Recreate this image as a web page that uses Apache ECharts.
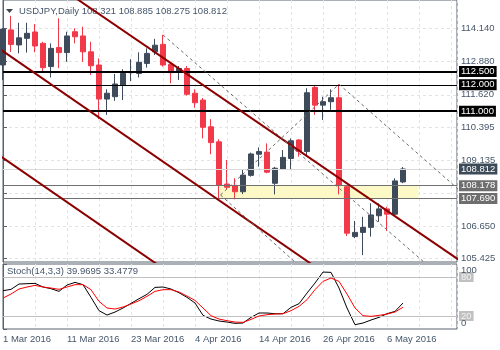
<!DOCTYPE html>
<html><head><meta charset="utf-8">
<script src="https://cdn.jsdelivr.net/npm/echarts@6/dist/echarts.min.js"></script>
<style>html,body{margin:0;padding:0;background:#fff}#c{width:500px;height:350px}</style>
</head><body><div id="c"></div>
<script>
// ---------- data ----------
const dates = ['1 Mar 2016','2 Mar 2016','3 Mar 2016','4 Mar 2016','7 Mar 2016','8 Mar 2016','9 Mar 2016','10 Mar 2016','11 Mar 2016','14 Mar 2016','15 Mar 2016','16 Mar 2016','17 Mar 2016','18 Mar 2016','21 Mar 2016','22 Mar 2016','23 Mar 2016','24 Mar 2016','25 Mar 2016','28 Mar 2016','29 Mar 2016','30 Mar 2016','31 Mar 2016','1 Apr 2016','4 Apr 2016','5 Apr 2016','6 Apr 2016','7 Apr 2016','8 Apr 2016','11 Apr 2016','12 Apr 2016','13 Apr 2016','14 Apr 2016','15 Apr 2016','18 Apr 2016','19 Apr 2016','20 Apr 2016','21 Apr 2016','22 Apr 2016','25 Apr 2016','26 Apr 2016','27 Apr 2016','28 Apr 2016','29 Apr 2016','2 May 2016','3 May 2016','4 May 2016','5 May 2016','6 May 2016','9 May 2016','10 May 2016'];
const opens  = [112.75,114.08,113.51,113.76,114.00,113.57,112.69,113.41,113.22,114.01,113.85,113.25,112.75,111.46,111.55,111.99,112.46,112.43,112.81,113.25,113.53,112.78,112.47,112.62,111.68,111.42,110.41,109.84,108.24,108.19,107.95,108.57,109.37,109.45,108.27,108.81,109.21,109.91,109.47,111.90,111.23,111.36,111.51,108.14,106.25,106.41,106.60,107.04,107.30,107.10,108.321];
const closes = [114.11,113.53,113.78,113.95,113.47,112.65,113.38,113.22,113.85,113.82,113.25,112.72,111.46,111.68,112.03,112.43,112.50,112.85,113.19,113.50,112.75,112.46,112.62,111.64,111.32,110.39,109.81,108.20,108.12,107.95,108.58,109.38,109.47,108.69,108.84,109.25,109.88,109.47,111.70,111.23,111.36,111.51,108.20,106.38,106.41,106.60,107.07,107.30,107.10,108.36,108.812];
const lows   = [112.18,113.24,113.19,113.22,113.23,112.46,112.28,112.63,112.87,113.57,112.87,112.37,110.70,110.86,111.39,111.42,112.14,112.28,112.65,113.13,112.69,112.06,112.18,111.59,111.13,109.97,109.37,107.70,108.04,107.66,107.86,108.52,108.90,108.65,107.85,108.77,108.77,109.28,109.28,110.86,110.67,111.05,107.85,106.27,106.19,105.55,106.25,106.81,106.46,107.03,108.275];
const highs  = [114.15,114.61,114.35,114.35,114.30,113.63,113.57,114.52,114.01,114.14,114.20,113.63,113.00,111.83,112.41,112.59,112.97,113.23,113.38,113.74,113.89,112.87,112.71,112.71,111.83,111.50,110.70,109.94,109.15,108.46,108.80,109.43,109.63,109.78,108.89,109.53,109.97,109.94,111.87,111.95,111.55,111.83,112.02,108.20,106.84,107.00,107.51,107.51,107.38,108.46,108.885];
const stochK = [58.9,61.0,69.2,69.7,70.2,64.6,62.0,57.9,67.6,71.7,68.2,48.7,28.2,21.5,26.1,32.3,39.4,46.6,53.3,64.0,64.6,61.5,55.8,48.7,40.0,21.0,15.3,12.3,10.7,8.7,9.2,17.9,24.6,24.6,23.5,23.5,33.3,38.9,55.3,70.7,87.6,87.1,63.0,32.3,6.6,9.2,13.8,17.9,23.5,27.1,39.9695];
const stochD = [47.6,53.8,61.5,64.6,67.1,64.6,63.0,61.0,64.6,68.2,68.2,60.5,42.5,32.3,30.7,33.8,38.4,43.5,50.2,57.9,60.5,60.5,56.9,50.7,44.0,32.3,20.5,15.3,12.8,10.7,10.2,14.8,20.0,22.0,23.0,23.5,28.2,34.8,45.1,60.5,73.3,78.4,73.3,53.8,32.3,20.5,19.4,21.0,23.0,26.1,33.4779];
const priceTicks = [105.425,106.650,107.875,109.135,110.395,111.620,112.880,114.140];
const hiddenPriceTicks = [107.875];
const thickLevels = [112.5, 111.0];
const thinLevels = [112.0];
const zoneLevels = [108.178, 107.690];
const zoneBars = [27.06, 51.94];
const lastPrice = 108.812;
const channelLines = [
  [[-2,117.579],[58,105.159]],
  [[-2,113.689],[58,101.144]],
  [[-2,109.648],[58,97.102]]
];
const dashedLines = [
  [[20,113.89],[58,103.867]],
  [[42,112.02],[58,107.754]],
  [[27.19,107.826],[42,112.02]],
  [[27.19,107.826],[37.06,105.133]]
];
const stochLevels = [80, 20];
const stochRange = [0, 100];
const stochTitle = 'Stoch(14,3,3)';

// ---------- styles ----------
const FONT = 'Liberation Sans, Arial, sans-serif';
const TXT = '#46566a';
const AX = '#59636e';
const GRIDC = '#e3e3e3';
const BULL = '#3e4b5b', BEAR = '#f2394a';
const FS = 9.5;

const chart = echarts.init(document.getElementById('c'), null, {renderer:'canvas', width:500, height:350});
const last = opens.length - 1;
const header = 'USDJPY,Daily ' + [opens[last],highs[last],lows[last],closes[last]].map(v=>v.toFixed(3)).join(' ');
const stochHeader = stochTitle + ' ' + stochK[last].toFixed(4) + ' ' + stochD[last].toFixed(4);

function lvlLabel(bg, fg){
  return {show:true, position:'end', distance:2, formatter:p=>Number(p.value).toFixed(3), color:fg||'#fff',
    backgroundColor:bg, padding:[1,2,0,2], fontSize:FS, fontFamily:FONT};
}
const triangle = {id:'tri', type:'polygon', shape:{points:[[6,9],[13,9],[9.5,13]]}, style:{fill:'#3c4650'}};

const option = {
  animation:false,
  backgroundColor:'#fff',
  textStyle:{fontFamily:FONT},
  title:[
    {text:header, left:19, top:6, padding:0, textStyle:{fontSize:FS, fontWeight:'normal', color:TXT, fontFamily:FONT}},
    {text:stochHeader, left:7, top:266, padding:0, textStyle:{fontSize:FS, fontWeight:'normal', color:TXT, fontFamily:FONT}}
  ],
  graphic:[triangle],
  grid:[
    {left:3, top:0, width:454, height:262, show:true, borderColor:AX, borderWidth:1, outerBoundsMode:'none', containLabel:false},
    {left:3, top:264, width:454, height:65, show:true, borderColor:AX, borderWidth:1, outerBoundsMode:'none', containLabel:false}
  ],
  xAxis:[
    {gridIndex:0, type:'value', min:0, max:56.75, interval:4, axisLine:{show:false}, axisTick:{show:false}, axisLabel:{show:false},
      splitLine:{show:true, lineStyle:{color:GRIDC, type:[3,3]}}},
    {gridIndex:1, type:'value', min:0, max:56.75, interval:4, axisLine:{show:false}, axisTick:{show:false},
      axisLabel:{show:true, formatter:v=>(v%8===0 && dates[v]) ? dates[v] : '', align:'left', color:TXT, fontSize:FS, fontFamily:FONT, margin:5, hideOverlap:false, showMaxLabel:false},
      splitLine:{show:true, lineStyle:{color:GRIDC, type:[3,3]}}}
  ],
  yAxis:[
    {gridIndex:0, type:'value', position:'right', min:105.288, max:115.212,
      axisLine:{show:true, lineStyle:{color:AX}},
      axisTick:{show:true, length:4, customValues:priceTicks, lineStyle:{color:AX}},
      axisLabel:{customValues:priceTicks, formatter:v=>hiddenPriceTicks.some(h=>Math.abs(h-v)<1e-6)?'':v.toFixed(3), color:TXT, fontSize:FS, fontFamily:FONT, margin:4, hideOverlap:false},
      splitLine:{show:true, lineStyle:{color:GRIDC, type:[3,3]}}},
    {gridIndex:1, type:'value', position:'right', min:stochRange[0], max:stochRange[1],
      axisLine:{show:true, lineStyle:{color:AX}},
      axisTick:{show:true, length:4, customValues:[0,20,80,100], lineStyle:{color:AX}},
      axisLabel:{show:false},
      splitLine:{show:false}}
  ],
  series:[
    {type:'candlestick', xAxisIndex:0, yAxisIndex:0, z:2, barWidth:5,
      data: opens.map((o,i)=>[i,o,closes[i],lows[i],highs[i]]),
      encode:{x:0, y:[1,2,3,4]},
      itemStyle:{color:BULL, color0:BEAR, borderColor:BULL, borderColor0:BEAR, borderWidth:1},
      markArea:{silent:true, itemStyle:{color:'#fcf9c6'}, data:[[{xAxis:zoneBars[0], yAxis:zoneLevels[0]},{xAxis:zoneBars[1], yAxis:zoneLevels[1]}]]},
      markLine:{silent:true, symbol:['none','none'], animation:false, precision:3,
        data:[
          ...thickLevels.map(v=>({yAxis:v, lineStyle:{color:'#000', width:2, type:'solid'}, label:lvlLabel('#000')})),
          ...thinLevels.map(v=>({yAxis:v, lineStyle:{color:'#000', width:1, type:'solid'}, label:lvlLabel('#000')})),
          ...zoneLevels.map(v=>({yAxis:v, lineStyle:{color:'#707070', width:1, type:'solid'}, label:lvlLabel('#6e6e6e')})),
          {yAxis:lastPrice, lineStyle:{color:'#d9d9d9', width:1, type:'solid'}, label:lvlLabel('#3d4b59')}
        ]}
    },
    ...channelLines.map(seg=>({type:'line', xAxisIndex:0, yAxisIndex:0, z:6, data:seg, symbol:'none', silent:true,
      lineStyle:{color:'#8b0000', width:2}})),
    ...dashedLines.map(seg=>({type:'line', xAxisIndex:0, yAxisIndex:0, z:6, data:seg, symbol:'none', silent:true,
      lineStyle:{color:'#6a6a6a', width:1, type:[3,3]}})),
    {type:'line', xAxisIndex:1, yAxisIndex:1, z:4, data:stochK.map((v,i)=>[i,v]), symbol:'none', silent:true,
      lineStyle:{color:'#000', width:1},
      markLine:{silent:true, symbol:['none','none'], animation:false, precision:0,
        data: stochLevels.map(v=>({yAxis:v, lineStyle:{color:'#c0c0c0', width:1, type:'solid'},
            label:{show:true, position:'end', distance:2, formatter:p=>String(p.value), color:'#f4f4f4', backgroundColor:'#c0c0c0', padding:[0,2,0,2], lineHeight:10, fontSize:FS, fontFamily:FONT}}))}},
    {type:'line', xAxisIndex:1, yAxisIndex:1, z:5, data:stochD.map((v,i)=>[i,v]), symbol:'none', silent:true,
      lineStyle:{color:'#ff0000', width:1}}
  ]
};
chart.setOption(option);

// stochastic scale end labels, positioned through the axis scale
const xEnd = chart.convertToPixel({xAxisIndex:1}, 56.75);
const rangeTexts = stochRange.map((v,k)=>{
  const y = chart.convertToPixel({yAxisIndex:1}, v);
  return {id:'rng'+k, type:'text', z:100, x:xEnd+4, y: k===0 ? y-1 : y+1,
    style:{text:String(v), fill:TXT, font:FS+'px '+FONT, textVerticalAlign: k===0 ? 'bottom' : 'top', verticalAlign: k===0 ? 'bottom' : 'top'}};
});
chart.setOption({graphic:[triangle, ...rangeTexts]});
</script>
</body></html>
